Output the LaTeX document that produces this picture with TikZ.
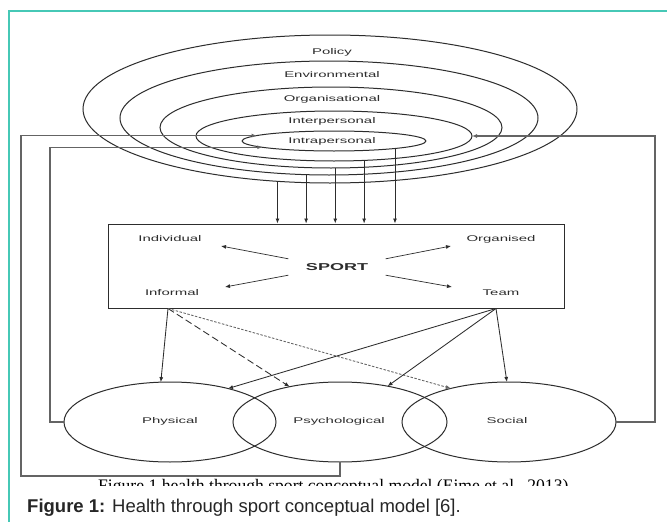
\documentclass[tikz,border=0pt]{standalone}
\usepackage{fontspec}
\setmainfont{Liberation Serif}
\newfontfamily\dfont[FakeStretch=1.8]{Liberation Sans}
\newfontfamily\capfont{Liberation Sans}
\usetikzlibrary{shapes.geometric,arrows.meta,calc}
\definecolor{teal1}{RGB}{70,200,182}
\definecolor{ink}{RGB}{45,45,45}
\definecolor{fbgray}{RGB}{100,100,100}
\begin{document}
\begin{tikzpicture}[x=1pt,y=-1pt,
  ring/.style={ellipse,draw=ink,line width=1pt,inner sep=0pt,outer sep=0pt},
  lbl/.style={font=\dfont\fontsize{8.3}{10}\selectfont,text=ink,inner sep=0pt},
  arr/.style={draw=ink,line width=0.85pt,-{Latex[length=5pt,width=4pt]}},
  fb/.style={draw=fbgray,line width=1.2pt,-{Latex[length=5pt,width=4pt]}},
]
\fill[white] (0,0) rectangle (667,522);
\useasboundingbox (0,0) rectangle (667,522);
\draw[teal1,line width=1.5pt] (9,522) -- (9,11) -- (667,11);

% nested ellipses
\node[ring,minimum width=494pt,minimum height=148pt] (pol) at (330,109) {};
\node[ring,minimum width=418pt,minimum height=114pt] (env) at (329,118) {};
\node[ring,minimum width=342pt,minimum height=81pt] (orgn) at (331,127.5) {};
\node[ring,minimum width=276pt,minimum height=50pt] (inter) at (334,136) {};
\node[ring,minimum width=184pt,minimum height=20pt] (intra) at (334,141) {};
\node[lbl] (lpol) at (332,52) {Policy};
\node[lbl] (lenv) at (332,75) {Environmental};
\node[lbl] (lorg) at (332,99) {Organisational};
\node[lbl] (linter) at (332,121) {Interpersonal};
\node[lbl] (lintra) at (332,141) {Intrapersonal};

% sport box
\node[draw=ink,line width=1pt,minimum width=456pt,minimum height=84pt,inner sep=0pt] (box) at (336,266) {};
\node[font=\dfont\bfseries\fontsize{10}{12}\selectfont,text=ink,minimum width=97pt,minimum height=16pt,inner sep=0pt] (sp) at (337,267) {SPORT};
\node[lbl] (ind) at (170,239) {Individual};
\node[lbl] (orgd) at (501,239) {Organised};
\node[lbl] (inf) at (172,293) {Informal};
\node[lbl] (team) at (501,293) {Team};

\draw[arr] (pol.234) -- (pol.234 |- box.north);
\draw[arr] (env.248) -- (env.248 |- box.north);
\draw[arr] (orgn.276) -- (orgn.276 |- box.north);
\draw[arr] (inter.321) -- (inter.321 |- box.north);
\draw[arr] (intra.353) -- (intra.353 |- box.north);

\draw[arr,line width=0.7pt] (sp.north west) -- ($(ind)+(51,7)$);
\draw[arr,line width=0.7pt] (sp.north east) -- ($(orgd)+(-50,7)$);
\draw[arr,line width=0.7pt] (sp.south west) -- ($(inf)+(53,-6)$);
\draw[arr,line width=0.7pt] (sp.south east) -- ($(team)+(-49,-6)$);

% outcome ellipses
\node[ring,minimum width=212pt,minimum height=80pt] (phys) at (170,422) {};
\node[ring,minimum width=214pt,minimum height=80pt] (psy) at (340,422) {};
\node[ring,minimum width=214pt,minimum height=80pt] (soc) at (509,422) {};
\node[lbl] (lphys) at (170,421) {Physical};
\node[lbl] (lpsy) at (339,421) {Psychological};
\node[lbl] (lsoc) at (507,421) {Social};

\coordinate (infS) at ($(inf |- box.south)+(-4,0)$);
\coordinate (teamS) at ($(team |- box.south)+(-5,0)$);
\draw[arr] (infS) -- (phys.103);
\draw[arr,dash pattern=on 7pt off 3.5pt] (infS) -- (psy.145);
\draw[arr,draw=fbgray,dash pattern=on 2.5pt off 1.5pt] (infS) -- (soc.150);
\draw[arr] (teamS) -- (phys.30);
\draw[arr] (teamS) -- (psy.37);
\draw[arr] (teamS) -- (soc.93);

% feedback loops
\coordinate (fo) at (21,476);
\draw[fb] (psy.south) |- (fo) |- (intra.176);
\draw[fb] (phys.west) -- ++(-14,0) |- (intra.185);
\draw[fb] (soc.east) -- ++(39,0) |- (inter.east);

% cut-off original caption
\begin{scope}
\clip (0,470) rectangle (667,485);
\node[anchor=base west,inner sep=0pt,font=\fontsize{17.6}{20}\selectfont,text=black] (oldcap) at (98,491) {Figure 1 health through sport conceptual model (Eime et al., 2013)};
\end{scope}

% caption
\node[anchor=base west,inner sep=0pt,font=\capfont\fontsize{18.5}{22}\selectfont,text=black!85] (cap) at (27,512) {\textbf{Figure 1:} Health through sport conceptual model [6].};
\end{tikzpicture}
\end{document}
